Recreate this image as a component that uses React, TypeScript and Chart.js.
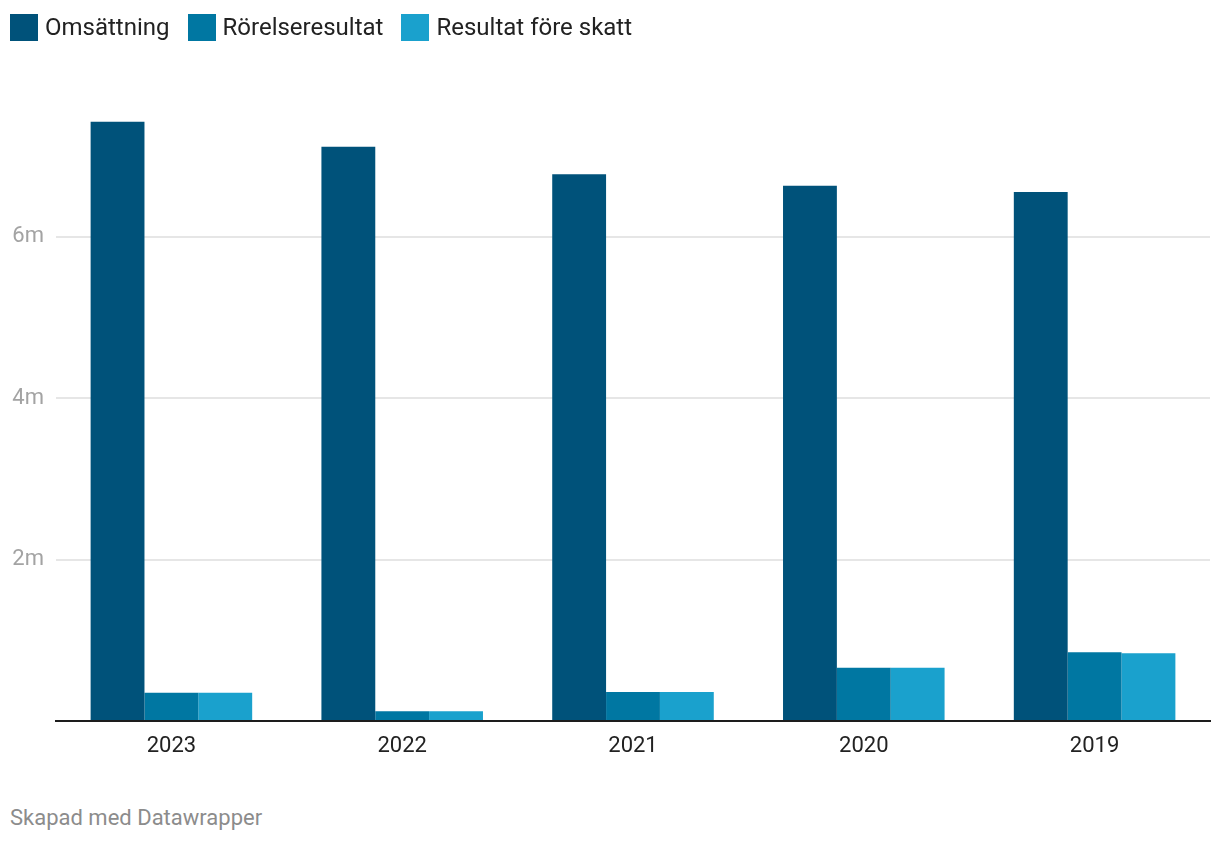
import React, { useEffect, useRef } from "react";
import { Chart, registerables } from "chart.js";

Chart.register(...registerables);

const years = ["2023", "2022", "2021", "2020", "2019"];
const omsattning = [7.42, 7.11, 6.77, 6.63, 6.55];
const rorelseresultat = [0.35, 0.12, 0.36, 0.66, 0.85];
const resultatForeSkatt = [0.35, 0.12, 0.36, 0.66, 0.84];
const seriesNames = ["Omsättning", "Rörelseresultat", "Resultat före skatt"];
const seriesColors = ["#00527a", "#0077a2", "#1aa1cd"];
const yTicks = [2, 4, 6];
const footerText = "Skapad med Datawrapper";

const FONT = "Roboto, 'Noto Sans', sans-serif";

export default function App() {
  const canvasRef = useRef<HTMLCanvasElement | null>(null);

  useEffect(() => {
    document.body.style.margin = "0";
    const canvas = canvasRef.current;
    if (!canvas) return;
    const values = [omsattning, rorelseresultat, resultatForeSkatt];
    const chart = new Chart(canvas, {
      type: "bar",
      data: {
        labels: years,
        datasets: seriesNames.map((name, i) => ({
          label: name,
          data: values[i],
          backgroundColor: seriesColors[i],
          borderWidth: 0,
          categoryPercentage: 0.7,
          barPercentage: 1.0,
        })),
      },
      options: {
        animation: false,
        responsive: false,
        maintainAspectRatio: false,
        layout: { padding: { top: 75, right: 10, bottom: 9, left: 0 } },
        plugins: {
          legend: { display: false },
          tooltip: { enabled: false },
        },
        scales: {
          x: {
            grid: { display: false, drawTicks: false },
            border: { display: true, color: "#1d1d1d", width: 2 },
            ticks: {
              color: "#222222",
              font: { family: FONT, size: 22 },
              padding: 12,
            },
            afterFit: (scale: any) => {
              scale.height = 50;
            },
          },
          y: {
            min: 0,
            max: 8,
            afterBuildTicks: (scale: any) => {
              scale.ticks = [0, ...yTicks, 8].map((v) => ({ value: v }));
            },
            grid: {
              drawTicks: false,
              lineWidth: 2,
              color: (ctx: any) =>
                yTicks.includes(ctx.tick?.value) ? "#e6e6e6" : "rgba(0,0,0,0)",
            },
            border: { display: false },
            ticks: {
              color: "#a3a3a3",
              font: { family: FONT, size: 22 },
              padding: 12,
              callback: (v: any) => (yTicks.includes(Number(v)) ? `${v}m` : ""),
            },
            afterFit: (scale: any) => {
              scale.width = 56;
            },
          },
        },
      },
    });
    return () => chart.destroy();
  }, []);

  return (
    <div
      style={{
        position: "absolute",
        left: 0,
        top: 0,
        width: 1220,
        height: 844,
        background: "#ffffff",
        fontFamily: FONT,
      }}
    >
      <canvas
        ref={canvasRef}
        width={1220}
        height={780}
        style={{ position: "absolute", left: 0, top: 0, width: 1220, height: 780 }}
      />
      <div
        style={{
          position: "absolute",
          left: 10,
          top: 14,
          display: "flex",
          alignItems: "center",
          height: 27,
        }}
      >
        {seriesNames.map((name, i) => (
          <div
            key={name}
            style={{ display: "flex", alignItems: "center", marginRight: 18 }}
          >
            <span
              style={{
                display: "inline-block",
                width: 28,
                height: 27,
                background: seriesColors[i],
                marginRight: 7,
              }}
            />
            <span style={{ fontSize: 24, color: "#222222", lineHeight: "27px" }}>
              {name}
            </span>
          </div>
        ))}
      </div>
      <div
        style={{
          position: "absolute",
          left: 10,
          top: 805,
          fontSize: 22,
          color: "#8c8c8c",
          lineHeight: "26px",
        }}
      >
        {footerText}
      </div>
    </div>
  );
}
